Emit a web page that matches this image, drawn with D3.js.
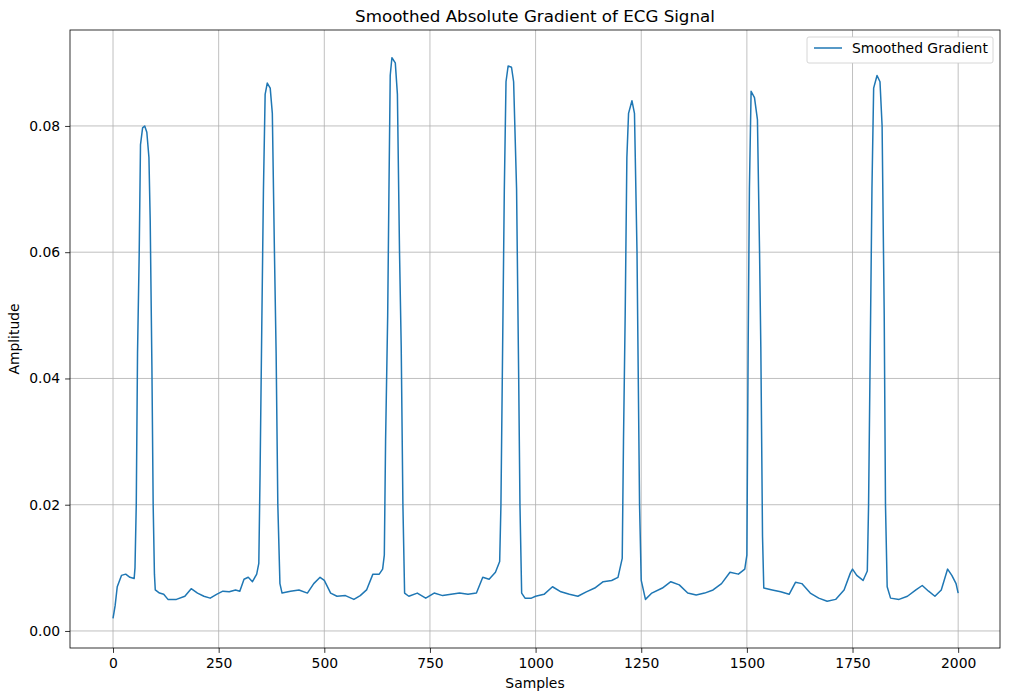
<!DOCTYPE html><html><head><meta charset="utf-8"><script src="https://d3js.org/d3.v7.min.js"></script>
<style>body{margin:0;background:#fff}text{font-family:"DejaVu Sans",sans-serif}</style></head><body><svg id="c" width="1010" height="699"></svg>
<script>
const samples=[0,5,10,20,30,40,50,52,55,58,62,65,70,75,80,85,88,92,95,98,100,110,120,130,150,170,185,200,215,230,245,260,275,290,300,310,320,330,340,345,348,352,356,360,365,372,377,382,386,390,395,400,420,440,460,475,490,500,515,530,550,570,585,600,615,630,638,642,645,650,653,656,660,668,673,678,682,686,690,700,720,740,760,780,800,820,840,860,875,890,905,915,918,922,926,930,935,943,948,955,960,963,967,975,990,1000,1020,1040,1060,1080,1100,1120,1140,1160,1180,1195,1205,1208,1212,1216,1220,1228,1234,1240,1243,1246,1250,1260,1275,1300,1320,1340,1360,1380,1400,1420,1440,1460,1480,1495,1500,1503,1506,1510,1518,1525,1530,1533,1537,1540,1560,1580,1600,1615,1630,1650,1670,1690,1710,1730,1745,1750,1760,1775,1785,1788,1792,1796,1800,1808,1815,1820,1825,1828,1832,1840,1860,1880,1900,1915,1930,1945,1960,1975,1985,1995,2000];
const gradient=[0.002,0.004,0.007,0.0088,0.009,0.0085,0.0083,0.010,0.02,0.044,0.06,0.077,0.0797,0.080,0.079,0.075,0.065,0.042,0.020,0.009,0.0065,0.006,0.0058,0.005,0.005,0.0055,0.0067,0.006,0.0055,0.0052,0.0058,0.0063,0.0062,0.0065,0.0063,0.0082,0.0085,0.0078,0.009,0.0107,0.025,0.048,0.07,0.085,0.0868,0.086,0.082,0.060,0.044,0.020,0.0075,0.006,0.0063,0.0065,0.006,0.0075,0.0085,0.008,0.006,0.0055,0.0056,0.005,0.0056,0.0065,0.009,0.009,0.0098,0.012,0.03,0.05,0.07,0.088,0.0908,0.09,0.085,0.060,0.045,0.02,0.006,0.0055,0.006,0.0052,0.006,0.0056,0.0058,0.006,0.0058,0.006,0.0085,0.0082,0.0093,0.011,0.02,0.045,0.07,0.087,0.0895,0.0893,0.087,0.07,0.04,0.02,0.006,0.0052,0.0052,0.0055,0.0058,0.007,0.0062,0.0058,0.0055,0.0062,0.0068,0.0078,0.008,0.0085,0.0115,0.03,0.05,0.075,0.082,0.084,0.082,0.06,0.04,0.02,0.008,0.005,0.006,0.0068,0.0078,0.0073,0.006,0.0057,0.006,0.0065,0.0075,0.0093,0.009,0.0098,0.012,0.045,0.07,0.0855,0.0845,0.081,0.06,0.045,0.015,0.0068,0.0065,0.0062,0.0058,0.0077,0.0075,0.006,0.0052,0.0047,0.005,0.0065,0.0092,0.0098,0.0088,0.008,0.0095,0.02,0.045,0.07,0.086,0.088,0.087,0.08,0.05,0.02,0.007,0.0052,0.005,0.0055,0.0065,0.0072,0.0063,0.0055,0.0065,0.0098,0.0088,0.0075,0.006];
const xTicks=[0,250,500,750,1000,1250,1500,1750,2000];
const yTicks=[0,0.02,0.04,0.06,0.08];
const svg=d3.select("#c");
const L=70,R=1000,T=30,B=648;
const x=d3.scaleLinear().domain([-101.8,2099]).range([L,R]);
const y=d3.scaleLinear().domain([-0.0027,0.0952]).range([B,T]);
const g=svg.append("g");
g.selectAll(".gx").data(xTicks).join("line").attr("x1",d=>x(d)).attr("x2",d=>x(d)).attr("y1",T).attr("y2",B).attr("stroke","#b0b0b0").attr("stroke-width",0.8);
g.selectAll(".gy").data(yTicks).join("line").attr("y1",d=>y(d)).attr("y2",d=>y(d)).attr("x1",L).attr("x2",R).attr("stroke","#b0b0b0").attr("stroke-width",0.8);
const line=d3.line().x((d,i)=>x(samples[i])).y(d=>y(d));
svg.append("path").datum(gradient).attr("d",line).attr("fill","none").attr("stroke","#1f77b4").attr("stroke-width",1.5).attr("stroke-linejoin","round");
const ax=svg.append("g").attr("transform",`translate(0,${B})`).call(d3.axisBottom(x).tickValues(xTicks).tickFormat(d3.format("d")).tickSize(4.9).tickPadding(4.9));
const ay=svg.append("g").attr("transform",`translate(${L},0)`).call(d3.axisLeft(y).tickValues(yTicks).tickFormat(d3.format(".2f")).tickSize(4.9).tickPadding(4.9));
[ax,ay].forEach(a=>{a.select(".domain").remove();a.selectAll("text").attr("font-size",13.9).attr("fill","#000").style("font-family","DejaVu Sans");a.selectAll("line").attr("stroke","#000").attr("stroke-width",0.8);});
svg.append("rect").attr("x",L).attr("y",T).attr("width",R-L).attr("height",B-T).attr("fill","none").attr("stroke","#000").attr("stroke-width",0.8);
svg.append("text").attr("x",(L+R)/2).attr("y",T-8).attr("text-anchor","middle").attr("font-size",16.7).text("Smoothed Absolute Gradient of ECG Signal");
svg.append("text").attr("x",(L+R)/2).attr("y",688).attr("text-anchor","middle").attr("font-size",13.9).text("Samples");
svg.append("text").attr("transform",`translate(19,${(T+B)/2}) rotate(-90)`).attr("text-anchor","middle").attr("font-size",13.9).text("Amplitude");
const lg=svg.append("g");
lg.append("rect").attr("x",807).attr("y",37).attr("width",186).attr("height",26).attr("rx",2).attr("fill","#fff").attr("stroke","#ccc").attr("stroke-width",0.8);
lg.append("line").attr("x1",814).attr("x2",842).attr("y1",48).attr("y2",48).attr("stroke","#1f77b4").attr("stroke-width",1.5);
lg.append("text").attr("x",852).attr("y",53).attr("font-size",13.9).text("Smoothed Gradient");
</script></body></html>
